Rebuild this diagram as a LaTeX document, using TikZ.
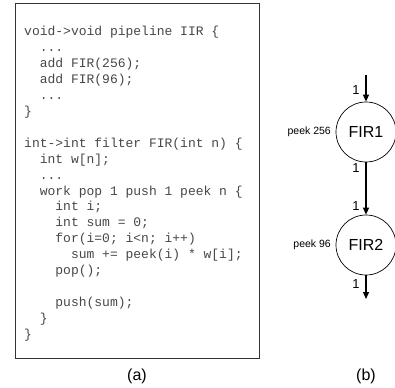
\documentclass[tikz,border=0pt]{standalone}
\usepackage{fontspec}
\setmainfont{Liberation Sans}
\setmonofont{Liberation Mono}
\usetikzlibrary{arrows.meta}
\begin{document}
\begin{tikzpicture}[x=1pt,y=-1pt,
  codeline/.style={anchor=base west,inner sep=0pt,font=\fontsize{13}{13}\ttfamily,text=black!72},
  filt/.style={circle,draw,line width=0.7pt,minimum size=60pt,inner sep=0pt,font=\fontsize{16}{16}\selectfont},
  rate/.style={inner sep=0pt,font=\fontsize{13}{13}\selectfont},
  peeklbl/.style={anchor=east,inner sep=0pt,font=\fontsize{10.5}{10.5}\selectfont},
  flow/.style={line width=1.3pt,-{Triangle[length=7pt,width=6pt]}},
  caption/.style={inner sep=0pt,font=\fontsize{16}{16}\selectfont}]
\useasboundingbox (0,0) rectangle (395,387);
\node[draw=black!80,line width=1pt,minimum width=244pt,minimum height=355pt,inner sep=0pt,anchor=north west] (box) at (15,3) {};
\def\lh{15.9}
\def\cw{7.8}
\node[codeline] (l0) at (24,36) {void->void pipeline IIR \{};
\node[codeline] (l1) at (24+2*\cw,36+1*\lh) {...};
\node[codeline] (l2) at (24+2*\cw,36+2*\lh) {add FIR(256);};
\node[codeline] (l3) at (24+2*\cw,36+3*\lh) {add FIR(96);};
\node[codeline] (l4) at (24+2*\cw,36+4*\lh) {...};
\node[codeline] (l5) at (24,36+5*\lh) {\}};
\node[codeline] (l7) at (24,36+7*\lh) {int->int filter FIR(int n) \{};
\node[codeline] (l8) at (24+2*\cw,36+8*\lh) {int w[n];};
\node[codeline] (l9) at (24+2*\cw,36+9*\lh) {...};
\node[codeline] (l10) at (24+2*\cw,36+10*\lh) {work pop 1 push 1 peek n \{};
\node[codeline] (l11) at (24+4*\cw,36+11*\lh) {int i;};
\node[codeline] (l12) at (24+4*\cw,36+12*\lh) {int sum = 0;};
\node[codeline] (l13) at (24+4*\cw,36+13*\lh) {for(i=0; i<n; i++)};
\node[codeline] (l14) at (24+6*\cw,36+14*\lh) {sum += peek(i) * w[i];};
\node[codeline] (l15) at (24+4*\cw,36+15*\lh) {pop();};
\node[codeline] (l17) at (24+4*\cw,36+17*\lh) {push(sum);};
\node[codeline] (l18) at (24+2*\cw,36+18*\lh) {\}};
\node[codeline] (l19) at (24,36+19*\lh) {\}};
\node[caption] (capa) at (137,376) {(a)};
% graph
\node[filt] (f1) at (366,132) {FIR1};
\node[filt] (f2) at (366,245) {FIR2};
\coordinate (in) at (366,75);
\coordinate (out) at (366,299);
\draw[flow] (in) -- (f1.north);
\draw[flow] (f1.south) -- (f2.north);
\draw[flow] (f2.south) -- (out);
\node[rate] (r1) at (356,90) {1};
\node[rate] (r2) at (356,168) {1};
\node[rate] (r3) at (356,206) {1};
\node[rate] (r4) at (356,284) {1};
\node[peeklbl] (p1) at (331,132) {peek 256};
\node[peeklbl] (p2) at (331,245) {peek 96};
\node[caption] (capb) at (366,376) {(b)};
\end{tikzpicture}
\end{document}
